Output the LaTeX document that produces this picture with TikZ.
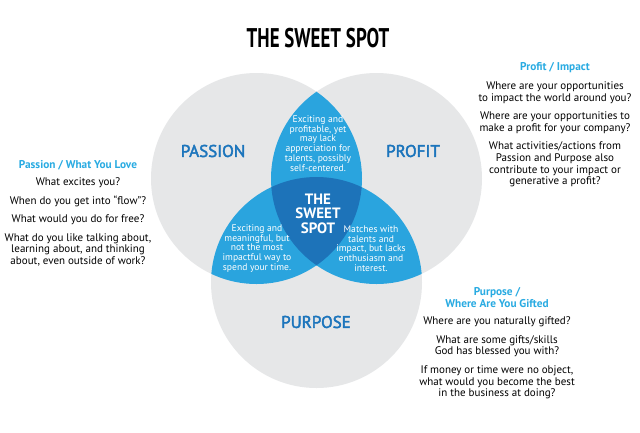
\documentclass[tikz,border=0pt]{standalone}
\usepackage{fontspec}
\setmainfont{PT Sans}
\newfontfamily\titlefont[FakeStretch=0.7]{PT Sans}
\newfontfamily\labelfont[FakeBold=2.5]{PT Sans}
\definecolor{venngray}{HTML}{E6E7E8}
\definecolor{lensblue}{HTML}{2AA4DE}
\definecolor{spotblue}{HTML}{1D73B9}
\definecolor{labelblue}{HTML}{1C75BC}
\definecolor{headblue}{HTML}{29ABE2}
\newcommand\vennrad{105.5}

\begin{document}
\begin{tikzpicture}[x=1pt,y=-1pt,
  circlelabel/.style={text=labelblue,font=\labelfont\fontsize{17}{20}\selectfont},
  lenstext/.style={text=white,align=center,inner sep=0pt,font=\fontsize{9.6}{9.8}\selectfont},
  sidehead/.style={text=headblue,align=center,inner sep=0pt,font=\bfseries\fontsize{11.3}{11.3}\selectfont},
  sidetext/.style={align=center,inner sep=0pt,font=\fontsize{11}{11.7}\selectfont}]
\useasboundingbox (0,0) rectangle (640,432);
\fill[white] (0,0) rectangle (640,432);

\coordinate (passion) at (256.5,178.5);
\coordinate (profit) at (376.5,178.5);
\coordinate (purpose) at (316.5,282.5);

% the three circles
\fill[venngray] (passion) circle[radius=\vennrad];
\fill[venngray] (profit) circle[radius=\vennrad];
\fill[venngray] (purpose) circle[radius=\vennrad];

% overlaps
\begin{scope}
  \clip (passion) circle[radius=\vennrad];
  \fill[lensblue] (profit) circle[radius=\vennrad];
  \fill[lensblue] (purpose) circle[radius=\vennrad];
\end{scope}
\begin{scope}
  \clip (profit) circle[radius=\vennrad];
  \fill[lensblue] (purpose) circle[radius=\vennrad];
\end{scope}
\begin{scope}
  \clip (passion) circle[radius=\vennrad];
  \clip (profit) circle[radius=\vennrad];
  \fill[spotblue] (purpose) circle[radius=\vennrad];
\end{scope}

\node[font=\titlefont\bfseries\fontsize{27}{30}\selectfont] (title) at (318,38.5) {THE SWEET SPOT};

\node[circlelabel] (passionlbl) at (213,151) {PASSION};
\node[circlelabel] (profitlbl) at (413,151) {PROFIT};
\node[circlelabel] (purposelbl) at (316,322) {PURPOSE};

\node[lenstext] (toplens) at (318,143.5) {Exciting and\\profitable, yet\\may lack\\appreciation for\\talents, possibly\\self-centered.};
\node[lenstext] (leftlens) at (257,248.5) {Exciting and\\meaningful, but\\not the most\\impactful way to\\spend your time.};
\node[lenstext] (rightlens) at (371,248.5) {Matches with\\talents and\\impact, but lacks\\enthusiasm and\\interest.};
\node[text=white,align=center,inner sep=0pt,font=\bfseries\fontsize{15}{14.5}\selectfont] (spot) at (318,213.5) {THE\\SWEET\\SPOT};

% side questions
\node[sidehead] (passionhead) at (78,165) {Passion / What You Love};
\node[sidetext] (passionq) at (78,222) {What excites you?\\[6.8pt]
  When do you get into “flow”?\\[6.8pt]
  What would you do for free?\\[6.8pt]
  What do you like talking about,\\learning about, and thinking\\about, even outside of work?};

\node[sidehead] (profithead) at (555,68) {Profit / Impact};
\node[sidetext] (profitq) at (555,134.5) {Where are your opportunities\\to impact the world around you?\\[6.8pt]
  Where are your opportunities to\\make a profit for your company?\\[6.8pt]
  What activities/actions from\\Passion and Purpose also\\contribute to your impact or\\generative a profit?};

\node[sidehead] (purposehead) at (497,297.5) {Purpose /\\Where Are You Gifted};
\node[sidetext] (purposeq) at (497,358) {Where are you naturally gifted?\\[6.8pt]
  What are some gifts/skills\\God has blessed you with?\\[6.8pt]
  If money or time were no object,\\what would you become the best\\in the business at doing?};
\end{tikzpicture}
\end{document}
